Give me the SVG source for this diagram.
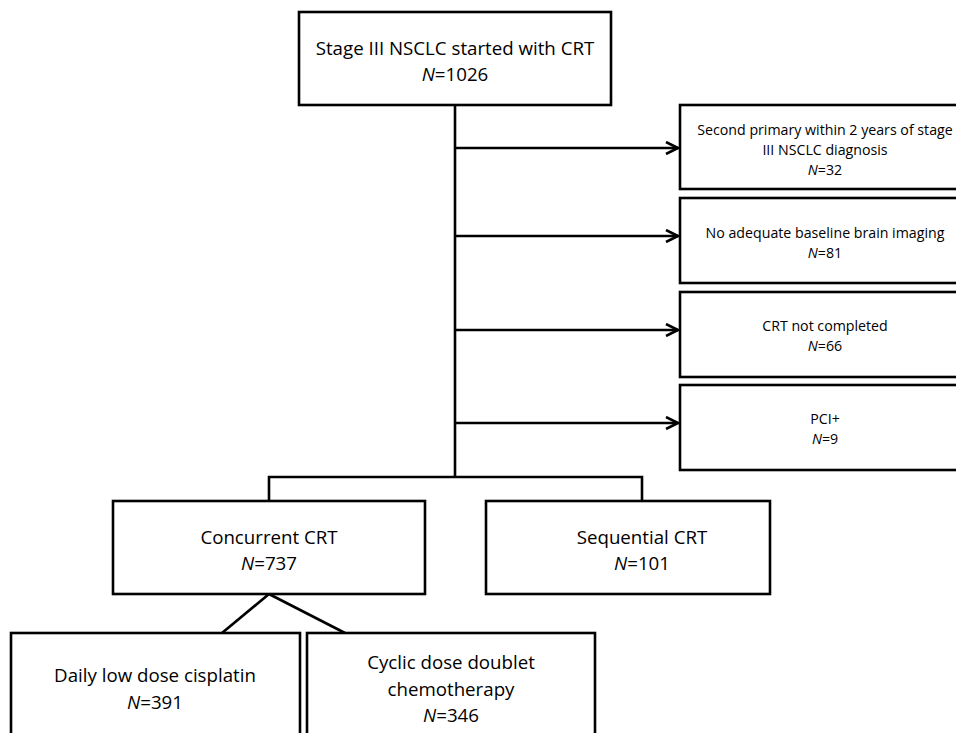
<svg xmlns="http://www.w3.org/2000/svg" width="956" height="733" viewBox="0 0 956 733">
<defs>
<style>
.box{fill:#fff;stroke:#000;stroke-width:2.6}
.ln{fill:none;stroke:#000;stroke-width:2.6}
.t{font-family:"Open Sans","Noto Sans",sans-serif;font-size:18.7px;fill:#000;text-anchor:middle;dominant-baseline:central}
.s{font-family:"Open Sans","Noto Sans",sans-serif;font-size:14.2px;fill:#000;text-anchor:middle;dominant-baseline:central}
</style>
<marker id="arr" viewBox="0 0 14 14" refX="13" refY="7" markerWidth="14" markerHeight="14" markerUnits="userSpaceOnUse" orient="auto">
<path d="M1,1 L13,7 L1,13" fill="none" stroke="#000" stroke-width="2.6"/>
</marker>
</defs>
<rect width="956" height="733" fill="#fff"/>
<g id="connectors">
<line class="ln" x1="455" y1="105" x2="455" y2="477"/>
<line class="ln" x1="455" y1="148" x2="678" y2="148" marker-end="url(#arr)"/>
<line class="ln" x1="455" y1="236" x2="678" y2="236" marker-end="url(#arr)"/>
<line class="ln" x1="455" y1="330" x2="678" y2="330" marker-end="url(#arr)"/>
<line class="ln" x1="455" y1="423" x2="678" y2="423" marker-end="url(#arr)"/>
<polyline class="ln" points="269,501 269,477 642,477 642,501"/>
<line class="ln" x1="269" y1="594" x2="222" y2="633"/>
<line class="ln" x1="269" y1="594" x2="345" y2="633"/>
</g>
<g id="start">
<rect class="box" x="299" y="12" width="312" height="93"/>
<text class="t" x="455" y="47">Stage III NSCLC started with CRT</text>
<text class="t" x="455" y="73"><tspan font-style="italic">N</tspan>=1026</text>
</g>
<g id="excl1">
<rect class="box" x="680" y="105" width="300" height="84"/>
<text class="s" x="825" y="129">Second primary within 2 years of stage</text>
<text class="s" x="825" y="149">III NSCLC diagnosis</text>
<text class="s" x="825" y="169"><tspan font-style="italic">N</tspan>=32</text>
</g>
<g id="excl2">
<rect class="box" x="680" y="198" width="300" height="85"/>
<text class="s" x="825" y="232">No adequate baseline brain imaging</text>
<text class="s" x="825" y="252"><tspan font-style="italic">N</tspan>=81</text>
</g>
<g id="excl3">
<rect class="box" x="680" y="292" width="300" height="85"/>
<text class="s" x="825" y="325">CRT not completed</text>
<text class="s" x="825" y="345"><tspan font-style="italic">N</tspan>=66</text>
</g>
<g id="excl4">
<rect class="box" x="680" y="385" width="300" height="85"/>
<text class="s" x="825" y="418">PCI+</text>
<text class="s" x="825" y="438"><tspan font-style="italic">N</tspan>=9</text>
</g>
<g id="concurrent">
<rect class="box" x="113" y="501" width="312" height="93"/>
<text class="t" x="269" y="536">Concurrent CRT</text>
<text class="t" x="269" y="562"><tspan font-style="italic">N</tspan>=737</text>
</g>
<g id="sequential">
<rect class="box" x="486" y="501" width="284" height="93"/>
<text class="t" x="642" y="536">Sequential CRT</text>
<text class="t" x="642" y="562"><tspan font-style="italic">N</tspan>=101</text>
</g>
<g id="daily">
<rect class="box" x="11" y="633" width="289" height="120"/>
<text class="t" x="155" y="674">Daily low dose cisplatin</text>
<text class="t" x="155" y="701"><tspan font-style="italic">N</tspan>=391</text>
</g>
<g id="cyclic">
<rect class="box" x="307" y="633" width="288" height="120"/>
<text class="t" x="451" y="661">Cyclic dose doublet</text>
<text class="t" x="451" y="688">chemotherapy</text>
<text class="t" x="451" y="714"><tspan font-style="italic">N</tspan>=346</text>
</g>
</svg>
